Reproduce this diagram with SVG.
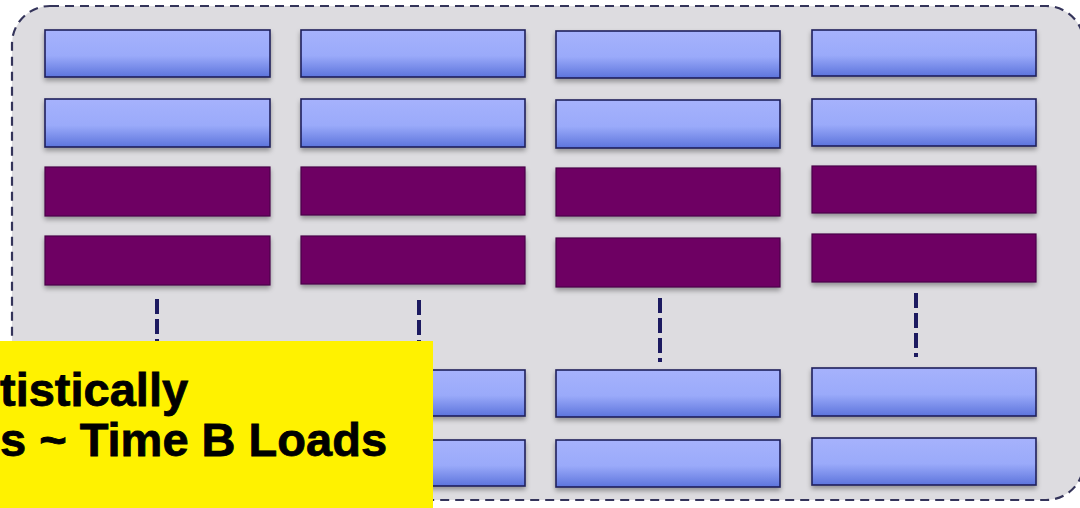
<svg xmlns="http://www.w3.org/2000/svg" width="1080" height="508" viewBox="0 0 1080 508">
  <defs>
    <linearGradient id="blueFill" x1="0" y1="0" x2="0" y2="1">
      <stop offset="0" stop-color="#a6b2fc"/>
      <stop offset="0.55" stop-color="#9aaafa"/>
      <stop offset="1" stop-color="#5d74dc"/>
    </linearGradient>
    <filter id="shadow" x="-5%" y="-20%" width="110%" height="160%">
      <feGaussianBlur in="SourceAlpha" stdDeviation="2.5"/>
      <feOffset dy="3" result="b"/>
      <feComponentTransfer><feFuncA type="linear" slope="0.35"/></feComponentTransfer>
      <feMerge><feMergeNode/><feMergeNode in="SourceGraphic"/></feMerge>
    </filter>
  </defs>
  <style>
    .panel { fill: #dddce0; stroke: #34345a; stroke-width: 2.2; stroke-dasharray: 9 6; }
    .blue { fill: url(#blueFill); stroke: #1f1f5c; stroke-width: 1.6; filter: url(#shadow); }
    .purple { fill: #6e0064; stroke: #4a0048; stroke-width: 1.2; filter: url(#shadow); }
    .link { stroke: #1c1a60; stroke-width: 4; stroke-dasharray: 15 5; fill: none; }
    .note { fill: #fff200; }
    .noteText { font-family: "Liberation Sans", Arial, sans-serif; font-weight: bold; font-size: 47px; fill: #000; stroke: #000; stroke-width: 0.8; }
  </style>

  <rect width="1080" height="508" fill="#ffffff"/>
  <rect id="cluster" class="panel" x="12" y="6" width="1072" height="494" rx="38" ry="38"/>

  <!-- column 1 -->
  <g id="col1">
    <rect class="blue" x="45" y="30" width="225" height="47"/>
    <rect class="blue" x="45" y="99" width="225" height="48"/>
    <rect class="purple" x="45" y="167" width="225" height="49"/>
    <rect class="purple" x="45" y="236" width="225" height="49"/>
    <rect class="blue" x="45" y="370" width="225" height="46"/>
    <rect class="blue" x="45" y="440" width="225" height="46"/>
  </g>

  <!-- column 2 -->
  <g id="col2">
    <rect class="blue" x="301" y="30" width="224" height="47"/>
    <rect class="blue" x="301" y="99" width="224" height="48"/>
    <rect class="purple" x="301" y="167" width="224" height="48"/>
    <rect class="purple" x="301" y="236" width="224" height="48"/>
    <rect class="blue" x="301" y="370" width="224" height="46"/>
    <rect class="blue" x="301" y="440" width="224" height="46"/>
  </g>

  <!-- column 3 -->
  <g id="col3">
    <rect class="blue" x="556" y="31" width="224" height="47"/>
    <rect class="blue" x="556" y="100" width="224" height="48"/>
    <rect class="purple" x="556" y="168" width="224" height="48"/>
    <rect class="purple" x="556" y="238" width="224" height="49"/>
    <rect class="blue" x="556" y="370" width="224" height="47"/>
    <rect class="blue" x="556" y="440" width="224" height="47"/>
  </g>

  <!-- column 4 -->
  <g id="col4">
    <rect class="blue" x="812" y="30" width="224" height="46"/>
    <rect class="blue" x="812" y="99" width="224" height="47"/>
    <rect class="purple" x="812" y="166" width="224" height="47"/>
    <rect class="purple" x="812" y="234" width="224" height="48"/>
    <rect class="blue" x="812" y="368" width="224" height="48"/>
    <rect class="blue" x="812" y="438" width="224" height="47"/>
  </g>

  <!-- elided rows between the upper and lower blocks -->
  <g id="connectors">
    <line class="link" x1="157" y1="299" x2="157" y2="362"/>
    <line class="link" x1="419" y1="300" x2="419" y2="362"/>
    <line class="link" x1="660" y1="298" x2="660" y2="362"/>
    <line class="link" x1="916" y1="293" x2="916" y2="357"/>
  </g>

  <!-- callout -->
  <g id="callout">
    <rect class="note" x="0" y="341" width="433" height="167"/>
    <text class="noteText" x="0" y="406">tistically</text>
    <text class="noteText" x="0" y="456">s ~ Time B Loads</text>
  </g>
</svg>
